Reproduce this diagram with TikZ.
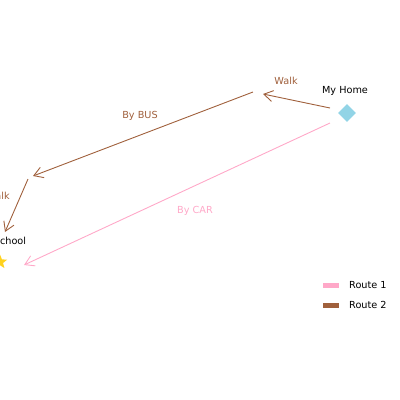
\documentclass[tikz,border=0pt]{standalone}
\usepackage{fontspec}
\setmainfont{DejaVu Sans}
\usepackage{xcolor}
\usetikzlibrary{arrows.meta, shapes.geometric}

\definecolor{carpink}{HTML}{FFA8C8}
\definecolor{busbrown}{HTML}{A0603C}
\definecolor{homeblue}{HTML}{92D4E6}
\definecolor{stargold}{HTML}{FFD21E}

\begin{document}
\begin{tikzpicture}[
  x=1pt, y=-1pt,
  lbl/.style={font=\fontsize{9.7}{11}\selectfont, inner sep=0pt},
  route/.style={-{Straight Barb[length=9pt,width=11pt]}, line width=0.9pt},
  legbox/.style={minimum width=16pt, minimum height=5pt, inner sep=0pt}
]
\useasboundingbox (0,0) rectangle (400,400);

% places
\node[diamond, fill=homeblue, minimum size=18pt, inner sep=0pt] (home) at (347,113) {};
\node[lbl, anchor=south] (homelbl) at (345,96) {My Home};
\node[star, star points=5, star point ratio=2.3, fill=stargold, minimum size=15pt, inner sep=0pt] (school) at (0,262) {};
\node[lbl] (schoollbl) at (10,241) {School};

% route ends
\coordinate (h1) at (330,108);
\coordinate (w1) at (263,94);
\coordinate (b1) at (253,92);
\coordinate (b2) at (33,176);
\coordinate (w2) at (28,179);
\coordinate (s2) at (5,232);
\coordinate (h2) at (330,123);
\coordinate (s1) at (24,265);

\draw[route, busbrown] (h1) -- (w1);
\draw[route, busbrown] (b1) -- (b2);
\draw[route, busbrown] (w2) -- (s2);
\draw[route, carpink] (h2) -- (s1);

\node[lbl, text=busbrown] (walkone) at (286,81) {Walk};
\node[lbl, text=busbrown] (bus) at (140,116) {By BUS};
\node[lbl, text=busbrown] (walktwo) at (-2,196) {Walk};
\node[lbl, text=carpink] (car) at (195,211) {By CAR};

% legend
\node[legbox, fill=carpink] (leg1) at (331,285.5) {};
\node[lbl, anchor=west] (leg1lbl) at (349,285.5) {Route 1};
\node[legbox, fill=busbrown] (leg2) at (331,305) {};
\node[lbl, anchor=west] (leg2lbl) at (349,305) {Route 2};
\end{tikzpicture}
\end{document}
